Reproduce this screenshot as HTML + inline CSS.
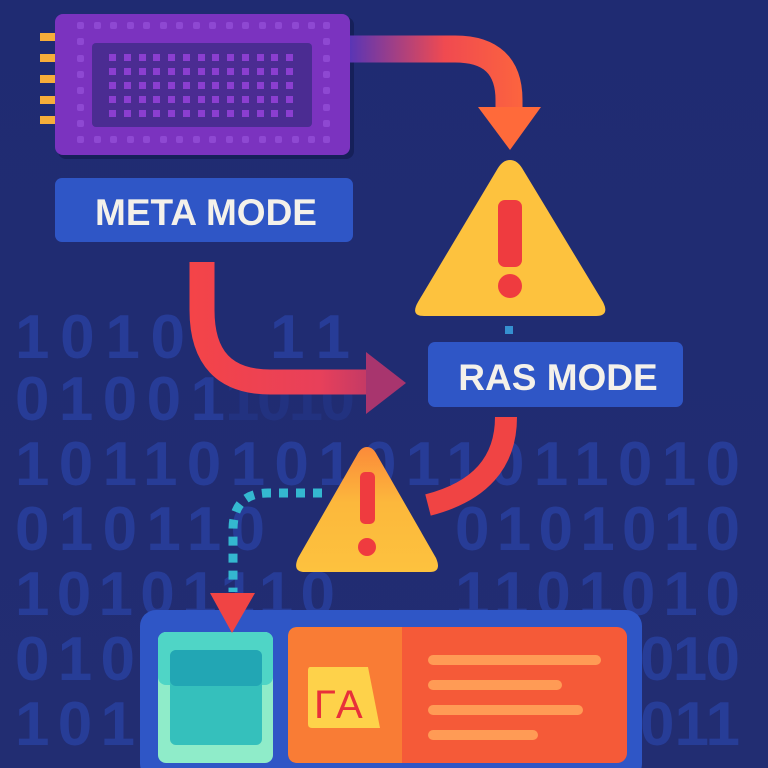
<!DOCTYPE html>
<html><head><meta charset="utf-8"><style>
html,body{margin:0;padding:0;background:#202c72;}
svg{display:block}
</style></head><body>
<svg width="768" height="768" viewBox="0 0 768 768" xmlns="http://www.w3.org/2000/svg">
<defs>
<linearGradient id="bg" x1="0" y1="0" x2="0" y2="1"><stop offset="0" stop-color="#1f2b72"/><stop offset="1" stop-color="#222d72"/></linearGradient>
<linearGradient id="g1" x1="350" y1="0" x2="540" y2="0" gradientUnits="userSpaceOnUse"><stop offset="0" stop-color="#5a35b5"/><stop offset="0.5" stop-color="#f04a50"/><stop offset="1" stop-color="#ff6a3a"/></linearGradient>
<linearGradient id="g2" x1="190" y1="0" x2="405" y2="0" gradientUnits="userSpaceOnUse"><stop offset="0" stop-color="#f44448"/><stop offset="0.6" stop-color="#e8405a"/><stop offset="1" stop-color="#a8356e"/></linearGradient>
<linearGradient id="g3" x1="0" y1="447" x2="0" y2="572" gradientUnits="userSpaceOnUse"><stop offset="0" stop-color="#fb8a3a"/><stop offset="0.45" stop-color="#fcb83c"/><stop offset="1" stop-color="#fdc23e"/></linearGradient>
</defs>
<rect width="768" height="768" fill="url(#bg)"/>
<g font-family="Liberation Sans, sans-serif" font-weight="bold" font-size="62" fill="#2a41a0" opacity="0.8">
<text x="15" y="358" textLength="170" lengthAdjust="spacing">1010</text>
<text x="270" y="358" textLength="80" lengthAdjust="spacing">11</text>
<text x="15" y="420" textLength="210" lengthAdjust="spacing">01001</text>
<text x="225" y="420" textLength="130" lengthAdjust="spacing" opacity="0.4">1010</text>
<text x="15" y="485" textLength="725" lengthAdjust="spacing">10110101011011010</text>
<text x="15" y="550" textLength="250" lengthAdjust="spacing">010110</text>
<text x="455" y="550" textLength="285" lengthAdjust="spacing">0101010</text>
<text x="15" y="615" textLength="320" lengthAdjust="spacing">10101110</text>
<text x="455" y="615" textLength="285" lengthAdjust="spacing">1101010</text>
<text x="15" y="680" textLength="120" lengthAdjust="spacing">010</text>
<text x="640" y="680" textLength="100" lengthAdjust="spacing">010</text>
<text x="15" y="745" textLength="120" lengthAdjust="spacing">101</text>
<text x="640" y="745" textLength="100" lengthAdjust="spacing">011</text>
</g>
<!-- chip -->
<g fill="#f6ad3a">
<rect x="40" y="33" width="15" height="8"/><rect x="40" y="54" width="15" height="8"/><rect x="40" y="75" width="15" height="8"/><rect x="40" y="96" width="15" height="8"/><rect x="40" y="116" width="15" height="8"/>
</g>
<rect x="58" y="17" width="296" height="142" rx="8" fill="#16205a"/>
<rect x="55" y="14" width="295" height="141" rx="8" fill="#7b33bf"/>
<g fill="#8e48d2">
<rect x="77" y="22" width="7" height="7" rx="2"/><rect x="94" y="22" width="7" height="7" rx="2"/><rect x="110" y="22" width="7" height="7" rx="2"/><rect x="127" y="22" width="7" height="7" rx="2"/><rect x="143" y="22" width="7" height="7" rx="2"/><rect x="160" y="22" width="7" height="7" rx="2"/><rect x="176" y="22" width="7" height="7" rx="2"/><rect x="193" y="22" width="7" height="7" rx="2"/><rect x="209" y="22" width="7" height="7" rx="2"/><rect x="226" y="22" width="7" height="7" rx="2"/><rect x="242" y="22" width="7" height="7" rx="2"/><rect x="259" y="22" width="7" height="7" rx="2"/><rect x="275" y="22" width="7" height="7" rx="2"/><rect x="292" y="22" width="7" height="7" rx="2"/><rect x="308" y="22" width="7" height="7" rx="2"/><rect x="323" y="22" width="7" height="7" rx="2"/>
<rect x="77" y="136" width="7" height="7" rx="2"/><rect x="94" y="136" width="7" height="7" rx="2"/><rect x="110" y="136" width="7" height="7" rx="2"/><rect x="127" y="136" width="7" height="7" rx="2"/><rect x="143" y="136" width="7" height="7" rx="2"/><rect x="160" y="136" width="7" height="7" rx="2"/><rect x="176" y="136" width="7" height="7" rx="2"/><rect x="193" y="136" width="7" height="7" rx="2"/><rect x="209" y="136" width="7" height="7" rx="2"/><rect x="226" y="136" width="7" height="7" rx="2"/><rect x="242" y="136" width="7" height="7" rx="2"/><rect x="259" y="136" width="7" height="7" rx="2"/><rect x="275" y="136" width="7" height="7" rx="2"/><rect x="292" y="136" width="7" height="7" rx="2"/><rect x="308" y="136" width="7" height="7" rx="2"/><rect x="323" y="136" width="7" height="7" rx="2"/>
<rect x="77" y="38" width="7" height="7" rx="2"/><rect x="77" y="55" width="7" height="7" rx="2"/><rect x="77" y="71" width="7" height="7" rx="2"/><rect x="77" y="87" width="7" height="7" rx="2"/><rect x="77" y="104" width="7" height="7" rx="2"/><rect x="77" y="120" width="7" height="7" rx="2"/>
<rect x="323" y="38" width="7" height="7" rx="2"/><rect x="323" y="55" width="7" height="7" rx="2"/><rect x="323" y="71" width="7" height="7" rx="2"/><rect x="323" y="87" width="7" height="7" rx="2"/><rect x="323" y="104" width="7" height="7" rx="2"/><rect x="323" y="120" width="7" height="7" rx="2"/>
</g>
<rect x="92" y="43" width="220" height="84" rx="4" fill="#4b2c92"/>
<g fill="#8b3ed0">
<rect x="109" y="54" width="7" height="7"/><rect x="124" y="54" width="7" height="7"/><rect x="139" y="54" width="7" height="7"/><rect x="153" y="54" width="7" height="7"/><rect x="168" y="54" width="7" height="7"/><rect x="183" y="54" width="7" height="7"/><rect x="198" y="54" width="7" height="7"/><rect x="212" y="54" width="7" height="7"/><rect x="227" y="54" width="7" height="7"/><rect x="242" y="54" width="7" height="7"/><rect x="257" y="54" width="7" height="7"/><rect x="271" y="54" width="7" height="7"/><rect x="286" y="54" width="7" height="7"/>
<rect x="109" y="68" width="7" height="7"/><rect x="124" y="68" width="7" height="7"/><rect x="139" y="68" width="7" height="7"/><rect x="153" y="68" width="7" height="7"/><rect x="168" y="68" width="7" height="7"/><rect x="183" y="68" width="7" height="7"/><rect x="198" y="68" width="7" height="7"/><rect x="212" y="68" width="7" height="7"/><rect x="227" y="68" width="7" height="7"/><rect x="242" y="68" width="7" height="7"/><rect x="257" y="68" width="7" height="7"/><rect x="271" y="68" width="7" height="7"/><rect x="286" y="68" width="7" height="7"/>
<rect x="109" y="82" width="7" height="7"/><rect x="124" y="82" width="7" height="7"/><rect x="139" y="82" width="7" height="7"/><rect x="153" y="82" width="7" height="7"/><rect x="168" y="82" width="7" height="7"/><rect x="183" y="82" width="7" height="7"/><rect x="198" y="82" width="7" height="7"/><rect x="212" y="82" width="7" height="7"/><rect x="227" y="82" width="7" height="7"/><rect x="242" y="82" width="7" height="7"/><rect x="257" y="82" width="7" height="7"/><rect x="271" y="82" width="7" height="7"/><rect x="286" y="82" width="7" height="7"/>
<rect x="109" y="96" width="7" height="7"/><rect x="124" y="96" width="7" height="7"/><rect x="139" y="96" width="7" height="7"/><rect x="153" y="96" width="7" height="7"/><rect x="168" y="96" width="7" height="7"/><rect x="183" y="96" width="7" height="7"/><rect x="198" y="96" width="7" height="7"/><rect x="212" y="96" width="7" height="7"/><rect x="227" y="96" width="7" height="7"/><rect x="242" y="96" width="7" height="7"/><rect x="257" y="96" width="7" height="7"/><rect x="271" y="96" width="7" height="7"/><rect x="286" y="96" width="7" height="7"/>
<rect x="109" y="110" width="7" height="7"/><rect x="124" y="110" width="7" height="7"/><rect x="139" y="110" width="7" height="7"/><rect x="153" y="110" width="7" height="7"/><rect x="168" y="110" width="7" height="7"/><rect x="183" y="110" width="7" height="7"/><rect x="198" y="110" width="7" height="7"/><rect x="212" y="110" width="7" height="7"/><rect x="227" y="110" width="7" height="7"/><rect x="242" y="110" width="7" height="7"/><rect x="257" y="110" width="7" height="7"/><rect x="271" y="110" width="7" height="7"/><rect x="286" y="110" width="7" height="7"/>
</g>
<!-- META MODE -->
<rect x="55" y="178" width="298" height="64" rx="7" fill="#2f56c6"/>
<text x="206" y="225" text-anchor="middle" font-family="Liberation Sans, sans-serif" font-weight="bold" font-size="37" fill="#f4f1ea">META MODE</text>
<!-- top arrow -->
<path d="M350 49 H455 Q509 49 509 100 V108" fill="none" stroke="url(#g1)" stroke-width="27"/>
<polygon points="478,107 541,107 510,150" fill="#ff6a3a"/>
<!-- big warning -->
<path d="M510 160 Q517 160 522 168 L603 302 Q610 316 596 316 L424 316 Q410 316 418 302 L498 168 Q503 160 510 160 Z" fill="#fdc23e"/>
<rect x="498" y="200" width="24" height="67" rx="7" fill="#ef3b3f"/>
<circle cx="510" cy="286" r="12" fill="#ef3b3f"/>
<rect x="505" y="326" width="8" height="8" fill="#3590d0"/>
<!-- RAS MODE -->
<rect x="428" y="342" width="255" height="65" rx="7" fill="#2f56c6"/>
<text x="558" y="390" text-anchor="middle" font-family="Liberation Sans, sans-serif" font-weight="bold" font-size="37" fill="#f4f1ea">RAS MODE</text>
<!-- left arrow -->
<path d="M202 262 V310 Q202 382 270 382 H368" fill="none" stroke="url(#g2)" stroke-width="25"/>
<polygon points="366,352 366,414 406,383" fill="#a8356e"/>
<!-- ras down arrow -->
<path d="M506 417 Q506 485 428 505" fill="none" stroke="#f04444" stroke-width="22"/>
<!-- small warning -->
<path d="M367 447 Q373 447 377 455 L436 558 Q442 572 430 572 L305 572 Q292 572 298 558 L357 455 Q361 447 367 447 Z" fill="url(#g3)"/>
<rect x="360" y="472" width="15" height="52" rx="5" fill="#ef3b3f"/>
<circle cx="367" cy="547" r="9" fill="#ef3b3f"/>
<!-- dotted -->
<path d="M322 493 H268 Q233 493 233 530 V592" fill="none" stroke="#34b8d0" stroke-width="9" stroke-dasharray="9 8"/>
<!-- bottom panel -->
<rect x="140" y="610" width="502" height="170" rx="16" fill="#2f56c6"/>
<rect x="158" y="632" width="115" height="131" rx="8" fill="#8fecc9"/>
<rect x="158" y="632" width="115" height="53" rx="8" fill="#4fd5c6"/>
<rect x="170" y="650" width="92" height="95" rx="6" fill="#35c0bc"/>
<rect x="170" y="650" width="92" height="36" rx="6" fill="#22a6b4"/>
<polygon points="210,593 255,593 232,633" fill="#f04444"/>
<rect x="288" y="627" width="339" height="136" rx="10" fill="#f55a38"/>
<path d="M298 627 H402 V763 H298 Q288 763 288 753 V637 Q288 627 298 627 Z" fill="#f97c35"/>
<path d="M310 667 H368 L380 728 H312 Q308 728 308 724 V671 Q308 667 310 667 Z" fill="#fed24a"/>
<text x="314" y="718" font-family="Liberation Sans, sans-serif" font-size="40" fill="#e8303a">ΓA</text>
<g fill="#ff9b55">
<rect x="428" y="655" width="173" height="10" rx="5"/>
<rect x="428" y="680" width="134" height="10" rx="5"/>
<rect x="428" y="705" width="155" height="10" rx="5"/>
<rect x="428" y="730" width="110" height="10" rx="5"/>
</g>
</svg>
</body></html>
